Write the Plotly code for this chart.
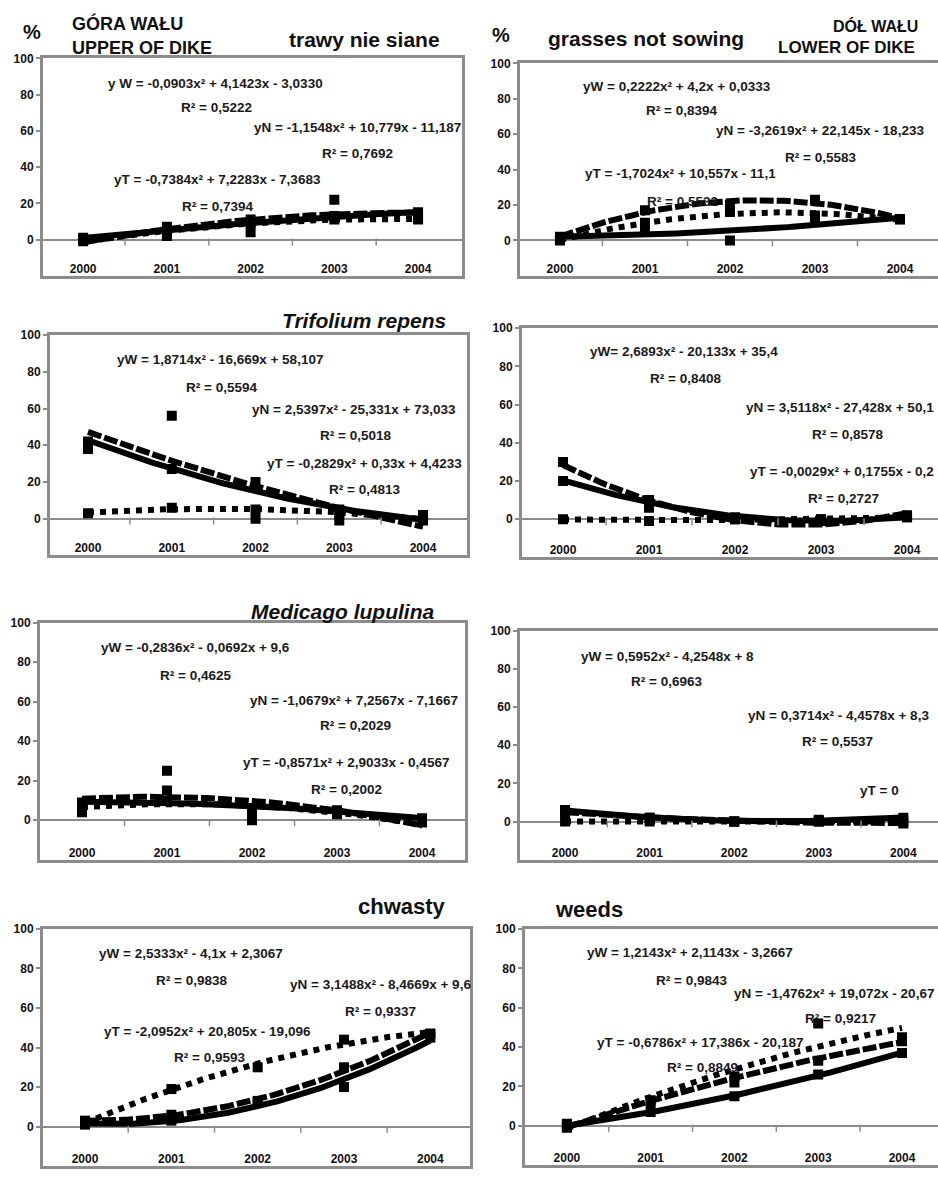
import numpy as np
import plotly.graph_objects as go

W, H = 938, 1183
years = [2000, 2001, 2002, 2003, 2004]
year_labels = ["2000", "2001", "2002", "2003", "2004"]
y_ticks = [-20, 0, 20, 40, 60, 80, 100]

# ---- data, series W (solid), N (dashed), T (dotted) ----
p1_W = [1, 5, 9, 13, 15]
p1_N = [-1, 7, 4, 22, 12]
p1_T = [0, 2, 11, 11, 11]

p2_W = [1, 7, 0, 12, 12]
p2_N = [2, 17, 20, 23, 12]
p2_T = [0, 10, 16, 14, 12]

p3_W = [42, 27, 20, -1, 2]
p3_N = [38, 56, 0, 5, -1]
p3_T = [3, 6, 5, 3, 0]

p4_W = [20, 10, 0, 0, 1]
p4_N = [30, 6, 1, -1, 2]
p4_T = [0, -1, 0, 0, 1]

p5_W = [9, 10, 6, 5, 1]
p5_N = [6, 25, 0, 5, -1]
p5_T = [4, 15, 3, 3, -1]

p6_W = [6, 2, 0, 1, 2]
p6_N = [5, 2, 0, 0, -1]
p6_T = [0, 0, 0, 0, 0]

p7_W = [1, 3, 13, 20, 45]
p7_N = [3, 6, 12, 30, 47]
p7_T = [2, 19, 30, 44, 47]

p8_W = [0, 7, 15, 26, 37]
p8_N = [-1, 13, 25, 33, 43]
p8_T = [1, 12, 22, 52, 45]

# equation labels
p1_eq = ["y W = -0,0903x² + 4,1423x - 3,0330", "R² = 0,5222",
         "yN = -1,1548x² + 10,779x - 11,187", "R² = 0,7692",
         "yT = -0,7384x² + 7,2283x - 7,3683", "R² = 0,7394"]
p2_eq = ["yW = 0,2222x² + 4,2x + 0,0333", "R² = 0,8394",
         "yN = -3,2619x² + 22,145x - 18,233", "R² = 0,5583",
         "yT = -1,7024x² + 10,557x - 11,1", "R² = 0,5532"]
p3_eq = ["yW = 1,8714x² - 16,669x + 58,107", "R² = 0,5594",
         "yN = 2,5397x² - 25,331x + 73,033", "R² = 0,5018",
         "yT = -0,2829x² + 0,33x + 4,4233", "R² = 0,4813"]
p4_eq = ["yW= 2,6893x² - 20,133x + 35,4", "R² = 0,8408",
         "yN = 3,5118x² - 27,428x + 50,1", "R² = 0,8578",
         "yT = -0,0029x² + 0,1755x - 0,2", "R² = 0,2727"]
p5_eq = ["yW = -0,2836x² - 0,0692x + 9,6", "R² = 0,4625",
         "yN = -1,0679x² + 7,2567x - 7,1667", "R² = 0,2029",
         "yT = -0,8571x² + 2,9033x - 0,4567", "R² = 0,2002"]
p6_eq = ["yW = 0,5952x² - 4,2548x + 8", "R² = 0,6963",
         "yN = 0,3714x² - 4,4578x + 8,3", "R² = 0,5537",
         "yT = 0"]
p7_eq = ["yW = 2,5333x² - 4,1x + 2,3067", "R² = 0,9838",
         "yN = 3,1488x² - 8,4669x + 9,6", "R² = 0,9337",
         "yT = -2,0952x² + 20,805x - 19,096", "R² = 0,9593"]
p8_eq = ["yW = 1,2143x² + 2,1143x - 3,2667", "R² = 0,9843",
         "yN = -1,4762x² + 19,072x - 20,67", "R² = 0,9217",
         "yT = -0,6786x² + 17,386x - 20,187", "R² = 0,8849"]

# ---- layout geometry (pixels) ----
panels = [
    dict(data=(p1_W, p1_N, p1_T), eq=p1_eq, box=(43, 462, 52, 272), xr=(1999.52, 2004.525), right=False,
         eqpos=[(215, 77, "c"), (216, 102, "c"), (357, 122, "c"), (357, 148, "c"), (217, 175, "c"), (217, 202, "c")]),
    dict(data=(p2_W, p2_N, p2_T), eq=p2_eq, box=(520, 938, 57, 272), xr=(1999.53, 2004.447), right=True,
         eqpos=[(677, 80, "c"), (681, 105, "c"), (820, 125, "c"), (820, 152, "c"), (680, 168, "c"), (682, 197, "c")]),
    dict(data=(p3_W, p3_N, p3_T), eq=p3_eq, box=(50, 467, 332, 555), xr=(1999.546, 2004.525), right=False,
         eqpos=[(220, 357, "c"), (221, 385, "c"), (354, 407, "c"), (355, 434, "c"), (364, 462, "c"), (364, 488, "c")]),
    dict(data=(p4_W, p4_N, p4_T), eq=p4_eq, box=(522, 938, 325, 557), xr=(1999.523, 2004.36), right=True,
         eqpos=[(684, 349, "c"), (685, 376, "c"), (936, 405, "r"), (847, 433, "c"), (748, 470, "l"), (843, 497, "c")]),
    dict(data=(p5_W, p5_N, p5_T), eq=p5_eq, box=(40, 465, 623, 863), xr=(1999.506, 2004.506), right=False,
         eqpos=[(195, 648, "c"), (195, 676, "c"), (354, 702, "c"), (355, 727, "c"), (346, 765, "c"), (346, 792, "c")]),
    dict(data=(p6_W, p6_N, p6_T), eq=p6_eq, box=(520, 938, 631, 863), xr=(1999.467, 2004.41), right=True,
         eqpos=[(667, 657, "c"), (666, 683, "c"), (838, 717, "c"), (837, 743, "c"), (879, 793, "c")]),
    dict(data=(p7_W, p7_N, p7_T), eq=p7_eq, box=(43, 470, 933, 1173), xr=(1999.513, 2004.46), right=False,
         eqpos=[(191, 958, "c"), (191, 985, "c"), (288, 989, "l"), (380, 1017, "c"), (207, 1037, "c"), (209, 1063, "c")]),
    dict(data=(p8_W, p8_N, p8_T), eq=p8_eq, box=(525, 938, 933, 1172), xr=(1999.5, 2004.43), right=True,
         eqpos=[(690, 957, "c"), (691, 985, "c"), (936, 998, "r"), (840, 1024, "c"), (700, 1048, "c"), (702, 1073, "c")]),
]

dash_styles = ["solid", "14px,3px", "6px,6px"]
border = "#8c8c8c"
FONT = "Liberation Sans, Arial, sans-serif"
anchors = {"c": "center", "l": "left", "r": "right"}

fig = go.Figure()
layout = {}
annotations = []

for i, p in enumerate(panels, start=1):
    xa = "x" if i == 1 else f"x{i}"
    ya = "y" if i == 1 else f"y{i}"
    l, r, t, b = p["box"]
    for vals, dash in zip(p["data"], dash_styles):
        idx = np.arange(1, len(years) + 1)
        coef = np.polyfit(idx, np.array(vals, dtype=float), 2)
        xs = np.linspace(1, len(years), 80)
        fig.add_trace(go.Scatter(
            x=years[0] - 1 + xs, y=np.polyval(coef, xs), mode="lines",
            line=dict(color="black", width=6, dash=dash),
            xaxis=xa, yaxis=ya, showlegend=False, hoverinfo="skip"))
        fig.add_trace(go.Scatter(
            x=years, y=vals, mode="markers",
            marker=dict(symbol="square", size=10, color="black"),
            xaxis=xa, yaxis=ya, showlegend=False))
    # small category tick marks under the zero line
    fig.add_trace(go.Scatter(
        x=[yv + 0.5 for yv in years[:-1]], y=[-1.3] * (len(years) - 1), mode="markers",
        marker=dict(symbol="line-ns", size=5, line=dict(color=border, width=1.5)),
        xaxis=xa, yaxis=ya, showlegend=False, hoverinfo="skip"))

    kx = "xaxis" if i == 1 else f"xaxis{i}"
    ky = "yaxis" if i == 1 else f"yaxis{i}"
    layout[kx] = dict(
        domain=[l / W, r / W], range=list(p["xr"]), anchor=ya,
        tickvals=years, ticktext=year_labels, ticks="", ticklabelposition="inside",
        showline=True, linecolor=border, linewidth=3, mirror=True,
        showgrid=False, zeroline=False,
        tickfont=dict(family=FONT, size=12, color="#111", weight="bold"))
    layout[ky] = dict(
        domain=[1 - b / H, 1 - t / H], range=[-20, 100], anchor=xa,
        tickvals=y_ticks, ticks="outside", ticklen=4, tickcolor=border, tickwidth=1.5,
        showline=True, linecolor=border, linewidth=3, mirror=(not p["right"]),
        showgrid=False, zeroline=True, zerolinecolor=border, zerolinewidth=2,
        tickfont=dict(family=FONT, size=12, color="#111", weight="bold"))

    for txt, (px, py, anc) in zip(p["eq"], p["eqpos"]):
        annotations.append(dict(
            x=px / W, y=1 - py / H, xref="paper", yref="paper", text=txt, showarrow=False,
            xanchor=anchors[anc], yanchor="middle",
            font=dict(family=FONT, size=13.5, color="#1a1a1a", weight="bold")))

# headers and titles: text, x, y, size, style, anchor
headers = [
    ("%", 32, 25, 20, "normal", "center"),
    ("GÓRA WAŁU", 70, 17, 18, "normal", "left"),
    ("UPPER OF DIKE", 70, 41, 18, "normal", "left"),
    ("trawy nie siane", 364, 33, 21, "normal", "center"),
    ("%", 501, 28, 20, "normal", "center"),
    ("grasses not sowing", 646, 32, 21, "normal", "center"),
    ("DÓŁ WAŁU", 920, 19, 16, "normal", "right"),
    ("LOWER OF DIKE", 917, 41, 17, "normal", "right"),
    ("Trifolium repens", 364, 317, 21, "italic", "center"),
    ("Medicago lupulina", 342, 612, 21, "italic", "center"),
    ("chwasty", 402, 910, 22, "normal", "center"),
    ("weeds", 589, 913, 22, "normal", "center"),
]
for txt, px, py, size, style, anc in headers:
    annotations.append(dict(
        x=px / W, y=1 - py / H, xref="paper", yref="paper", text=txt, showarrow=False,
        xanchor=anc, yanchor="middle",
        font=dict(family=FONT, size=size, color="#111", weight="bold", style=style)))

fig.update_layout(
    width=W, height=H, margin=dict(l=0, r=0, t=0, b=0),
    paper_bgcolor="white", plot_bgcolor="white",
    annotations=annotations, **layout)

fig.write_html("out.html", config={"displayModeBar": False},
               post_script="document.body.style.margin='0';document.body.style.overflow='hidden';")
